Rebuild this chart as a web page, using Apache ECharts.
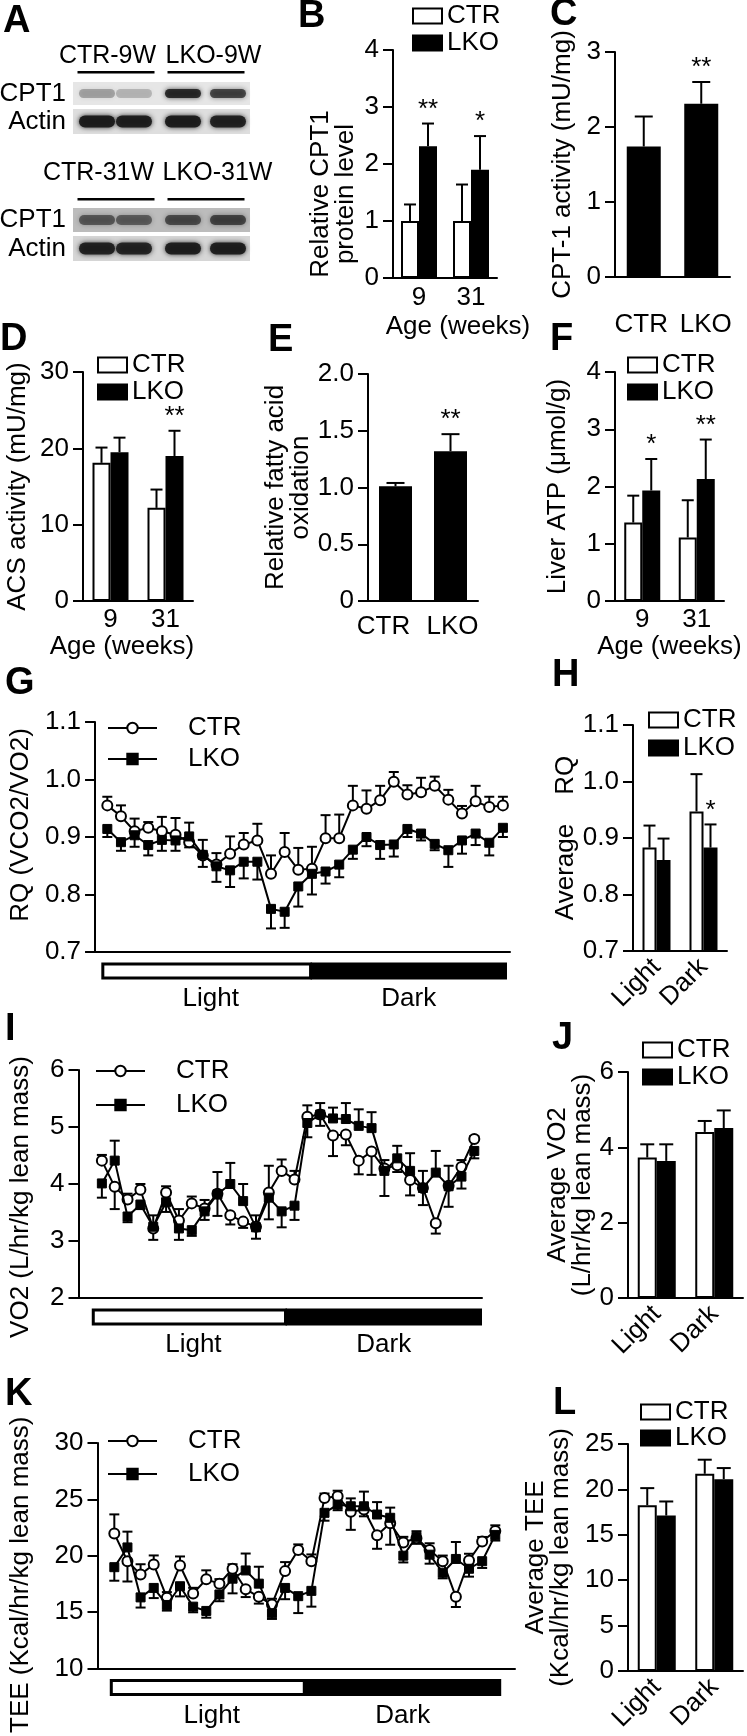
<!DOCTYPE html>
<html>
<head>
<meta charset="utf-8">
<script src="https://cdn.jsdelivr.net/npm/echarts@6.0.0/dist/echarts.min.js"></script>
<style>
  html, body { margin: 0; padding: 0; background: #fff; }
  #fig { width: 747px; height: 1736px; }
</style>
</head>
<body>
<div id="fig"></div>
<script>
const FONT = '"Liberation Sans", Arial, Helvetica, sans-serif';
const FS = 26;
const BLACK = '#000';

// ---------- data ----------
const ageWeeks = ['9', '31'];
const genotypes = ['CTR', 'LKO'];
const phases = ['Light', 'Dark'];

// A: western blot band darkness (lanes: CTR, CTR, LKO, LKO)
const blotGroups9w = ['CTR-9W', 'LKO-9W'];
const blotGroups31w = ['CTR-31W', 'LKO-31W'];
const cpt1Bands9w = [0.30, 0.22, 0.85, 0.70];
const actinBands9w = [0.95, 0.92, 0.95, 0.90];
const cpt1Bands31w = [0.55, 0.52, 0.62, 0.66];
const actinBands31w = [0.90, 0.88, 0.92, 0.92];

// B: relative CPT1 protein level
const cpt1ProtCtr = [1.00, 1.00];
const cpt1ProtCtrSem = [0.29, 0.64];
const cpt1ProtLko = [2.31, 1.90];
const cpt1ProtLkoSem = [0.40, 0.59];
const cpt1ProtStars = ['**', '*'];

// C: CPT-1 activity
const cpt1Activity = [1.74, 2.31];
const cpt1ActivitySem = [0.40, 0.29];
const cpt1ActivityStars = ['', '**'];

// D: ACS activity
const acsCtr = [18.1, 12.2];
const acsCtrSem = [2.0, 2.4];
const acsLko = [19.5, 19.0];
const acsLkoSem = [1.9, 3.3];
const acsStars = ['', '**'];

// E: relative fatty acid oxidation
const faoValues = [1.01, 1.32];
const faoSem = [0.03, 0.15];
const faoStars = ['', '**'];

// F: liver ATP
const atpCtr = [1.37, 1.11];
const atpCtrSem = [0.47, 0.65];
const atpLko = [1.93, 2.13];
const atpLkoSem = [0.55, 0.69];
const atpStars = ['*', '**'];

// G: RQ time course
const rqCtr = [0.955, 0.936, 0.910, 0.916, 0.910, 0.904, 0.891, 0.868, 0.852, 0.871, 0.887, 0.894, 0.836, 0.874, 0.843,
               0.845, 0.898, 0.898, 0.955, 0.949, 0.964, 0.996, 0.974, 0.978, 0.989, 0.965, 0.941, 0.962, 0.952, 0.955];
const rqCtrSem = [0.015, 0.019, 0.022, 0.010, 0.025, 0.029, 0.009, 0.020, 0.020, 0.030, 0.020, 0.029, 0.032, 0.033, 0.038,
                  0.038, 0.040, 0.041, 0.034, 0.032, 0.025, 0.017, 0.016, 0.025, 0.016, 0.017, 0.013, 0.027, 0.018, 0.015];
const rqLko = [0.914, 0.891, 0.903, 0.886, 0.895, 0.894, 0.901, 0.869, 0.849, 0.842, 0.857, 0.857, 0.775, 0.770, 0.814,
               0.836, 0.840, 0.852, 0.878, 0.900, 0.886, 0.887, 0.914, 0.906, 0.888, 0.877, 0.894, 0.906, 0.890, 0.916];
const rqLkoSem = [0.014, 0.015, 0.020, 0.018, 0.019, 0.018, 0.024, 0.026, 0.027, 0.029, 0.029, 0.031, 0.034, 0.028, 0.035,
                  0.036, 0.021, 0.022, 0.016, 0.016, 0.024, 0.021, 0.014, 0.012, 0.011, 0.029, 0.023, 0.020, 0.022, 0.016];

// H: average RQ
const rqAvgCtr = [0.883, 0.947];
const rqAvgCtrSem = [0.039, 0.066];
const rqAvgLko = [0.861, 0.883];
const rqAvgLkoSem = [0.038, 0.041];
const rqAvgStars = ['', '*'];

// I: VO2 time course
const vo2Ctr = [4.41, 3.95, 3.73, 3.90, 3.22, 3.85, 3.36, 3.66, 3.57, 3.83, 3.45, 3.34, 3.25, 3.85, 4.23,
                4.08, 5.18, 5.22, 4.85, 4.87, 4.41, 4.57, 4.27, 4.33, 4.07, 3.93, 3.31, 3.97, 4.30, 4.79];
const vo2CtrSem = [0.10, 0.39, 0.10, 0.10, 0.20, 0.11, 0.20, 0.12, 0.15, 0.38, 0.16, 0.11, 0.20, 0.47, 0.20,
                   0.15, 0.20, 0.20, 0.36, 0.19, 0.24, 0.41, 0.15, 0.12, 0.27, 0.30, 0.18, 0.35, 0.12, 0.05];
const vo2Lko = [4.01, 4.41, 3.43, 3.64, 3.25, 3.68, 3.22, 3.19, 3.52, 3.82, 4.00, 3.70, 3.24, 3.76, 3.52,
                3.62, 5.07, 5.22, 5.15, 5.14, 5.02, 4.98, 4.23, 4.45, 4.23, 3.93, 4.20, 3.96, 4.13, 4.58];
const vo2LkoSem = [0.25, 0.35, 0.10, 0.08, 0.20, 0.17, 0.20, 0.10, 0.15, 0.38, 0.37, 0.30, 0.20, 0.38, 0.28,
                   0.25, 0.25, 0.20, 0.19, 0.28, 0.29, 0.28, 0.44, 0.22, 0.31, 0.30, 0.38, 0.36, 0.21, 0.13];

// J: average VO2
const vo2AvgCtr = [3.73, 4.41];
const vo2AvgCtrSem = [0.35, 0.29];
const vo2AvgLko = [3.64, 4.51];
const vo2AvgLkoSem = [0.44, 0.47];

// K: TEE time course
const teeCtr = [21.97, 19.52, 18.35, 19.23, 16.28, 19.14, 16.66, 17.91, 17.53, 18.85, 17.04, 16.36, 15.69, 18.64, 20.51,
                19.52, 25.12, 25.27, 23.90, 24.10, 21.82, 22.88, 21.18, 21.56, 20.51, 19.52, 16.36, 19.58, 21.27, 22.20];
const teeCtrSem = [1.7, 1.8, 0.9, 0.8, 0.5, 0.8, 0.5, 0.8, 0.4, 0.4, 0.7, 0.6, 0.5, 0.8, 0.5,
                   0.6, 0.4, 0.5, 1.6, 0.6, 1.2, 1.9, 0.5, 0.5, 0.6, 0.5, 0.9, 0.6, 0.4, 0.5];
const teeLko = [18.99, 20.74, 16.31, 17.15, 15.64, 17.30, 15.49, 15.11, 16.57, 17.97, 18.70, 17.53, 14.90, 17.15, 16.42,
                16.89, 23.81, 24.54, 24.39, 24.39, 23.66, 23.37, 20.01, 21.68, 20.10, 18.50, 19.72, 18.85, 19.52, 21.85];
const teeLkoSem = [1.2, 1.4, 0.9, 0.9, 0.5, 0.9, 0.5, 0.6, 0.6, 1.3, 1.5, 1.5, 0.5, 1.0, 1.5,
                   1.4, 0.7, 0.5, 0.7, 1.3, 1.1, 0.9, 0.6, 0.5, 0.8, 0.5, 1.5, 0.7, 0.6, 0.5];

// L: average TEE
const teeAvgCtr = [18.26, 21.72];
const teeAvgCtrSem = [1.88, 1.55];
const teeAvgLko = [17.12, 21.13];
const teeAvgLkoSem = [1.55, 1.22];

// ---------- builders ----------
let grids = [], xAxes = [], yAxes = [], seriesList = [], legends = [];
let phaseBars = [];

const axisLine = { show: true, onZero: false, lineStyle: { color: BLACK, width: 2 } };

let fmt1 = function (v) { return v === 0 ? '0' : v.toFixed(1); };

function addGrid(box) {
    grids.push({ left: box[0], top: box[1], width: box[2], height: box[3] });
    return grids.length - 1;
}

function addYAxis(gi, y) {
    yAxes.push({
        gridIndex: gi, type: 'value', min: y.min, max: y.max, interval: y.step,
        name: y.name, nameLocation: 'middle', nameRotate: 90, nameGap: y.gap,
        nameTextStyle: { fontSize: FS, fontFamily: FONT, color: BLACK, lineHeight: 25, padding: y.pad || 0 },
        axisLine: axisLine,
        axisTick: { show: true, length: 10, lineStyle: { color: BLACK, width: 2 } },
        axisLabel: { fontSize: FS, fontFamily: FONT, color: BLACK, margin: 14, formatter: y.fmt },
        splitLine: { show: false }
    });
}

function addLegend(id, names, lg, isLine) {
    legends.push({
        left: lg.left, top: lg.top, orient: 'vertical', padding: 0,
        itemGap: lg.gap, itemWidth: isLine ? 49 : 29, itemHeight: isLine ? 13 : 15,
        icon: isLine ? undefined : 'rect',
        selectedMode: false,
        data: names.map(function (n) { return n + '_' + id; }),
        formatter: function (n) { return n.split('_')[0]; },
        textStyle: { fontSize: FS, fontFamily: FONT, color: BLACK, padding: isLine ? [0, 0, 0, 26] : 0 }
    });
}

// error bar + cap (+ star) on top of a bar
function barErrors(gi, vals, sem, offset, capHalf, stars) {
    return {
        type: 'custom', xAxisIndex: gi, yAxisIndex: gi, silent: true, z: 3,
        data: vals.map(function (v, i) { return [i, v, v + sem[i]]; }),
        renderItem: function (params, api) {
            let base = api.coord([api.value(0), api.value(1)]);
            let top = api.coord([api.value(0), api.value(2)]);
            let x = base[0] + offset;
            let kids = [
                { type: 'line', shape: { x1: x, y1: base[1], x2: x, y2: top[1] }, style: { stroke: BLACK, lineWidth: 2 } },
                { type: 'line', shape: { x1: x - capHalf, y1: top[1], x2: x + capHalf, y2: top[1] }, style: { stroke: BLACK, lineWidth: 2 } }
            ];
            let star = stars ? stars[params.dataIndex] : '';
            if (star) {
                kids.push({
                    type: 'text',
                    style: {
                        text: star, x: x, y: top[1] - 1, fill: BLACK,
                        font: FS + 'px ' + FONT,
                        textAlign: 'center', textVerticalAlign: 'bottom'
                    }
                });
            }
            return { type: 'group', children: kids };
        }
    };
}

// category labels nudged apart (left label to the left, right label to the right)
function spreadLabels(cats, pad) {
    return {
        formatter: function (v) { return '{' + (v === cats[0] ? 'l' : 'r') + '|' + v + '}'; },
        rich: {
            l: { fontSize: FS, fontFamily: FONT, color: BLACK, padding: [0, pad[0], 0, 0] },
            r: { fontSize: FS, fontFamily: FONT, color: BLACK, padding: [0, 0, 0, pad[1]] }
        }
    };
}

function barPanel(p) {
    let gi = addGrid(p.box);
    let label = { interval: 0, fontSize: FS, fontFamily: FONT, color: BLACK, margin: p.x.margin, rotate: p.x.rotate || 0 };
    if (p.x.spread) {
        Object.assign(label, spreadLabels(p.cats, p.x.spread));
    }
    xAxes.push({
        gridIndex: gi, type: 'category', data: p.cats,
        axisLine: axisLine, axisTick: { show: false },
        axisLabel: label,
        name: p.x.name, nameLocation: 'middle', nameGap: p.x.nameGap,
        nameTextStyle: { fontSize: FS, fontFamily: FONT, color: BLACK, padding: p.x.namePad || 0 }
    });
    addYAxis(gi, p.y);
    let n = p.groups.length;
    p.groups.forEach(function (g, k) {
        seriesList.push({
            type: 'bar', name: g.name + '_' + p.id, xAxisIndex: gi, yAxisIndex: gi,
            data: g.vals, barWidth: p.barWidth, barGap: '0%', silent: true,
            itemStyle: { color: g.fill, borderColor: BLACK, borderWidth: 2 }
        });
        let offset = (k - (n - 1) / 2) * p.barWidth;
        seriesList.push(barErrors(gi, g.vals, g.sem, offset, p.cap, g.stars));
    });
    if (p.legend) {
        addLegend(p.id, p.groups.map(function (g) { return g.name; }), p.legend, false);
    }
}

// vertical error bar for one time point; drawn away from the other group
function lineErrors(gi, vals, sem, other, isCtr) {
    return {
        type: 'custom', xAxisIndex: gi, yAxisIndex: gi, silent: true, z: 1,
        data: vals.map(function (v, i) {
            let up = isCtr ? v >= other[i] : v > other[i];
            return [i, v, up ? v + sem[i] : v - sem[i]];
        }),
        renderItem: function (params, api) {
            let a = api.coord([api.value(0), api.value(1)]);
            let b = api.coord([api.value(0), api.value(2)]);
            return {
                type: 'group', children: [
                    { type: 'line', shape: { x1: a[0], y1: a[1], x2: b[0], y2: b[1] }, style: { stroke: BLACK, lineWidth: 2 } },
                    { type: 'line', shape: { x1: b[0] - 5, y1: b[1], x2: b[0] + 5, y2: b[1] }, style: { stroke: BLACK, lineWidth: 2 } }
                ]
            };
        }
    };
}

function timePanel(p) {
    let gi = addGrid(p.box);
    xAxes.push({
        gridIndex: gi, type: 'value', min: p.xRange[0], max: p.xRange[1],
        axisLine: axisLine, axisTick: { show: false }, axisLabel: { show: false }, splitLine: { show: false }
    });
    addYAxis(gi, p.y);
    seriesList.push(lineErrors(gi, p.ctr, p.ctrSem, p.lko, true));
    seriesList.push(lineErrors(gi, p.lko, p.lkoSem, p.ctr, false));
    seriesList.push({
        type: 'line', name: 'CTR_' + p.id, xAxisIndex: gi, yAxisIndex: gi, z: 3, silent: true,
        data: p.ctr.map(function (v, i) { return [i, v]; }),
        symbol: 'circle', symbolSize: 10,
        lineStyle: { color: BLACK, width: 2 },
        itemStyle: { color: '#fff', borderColor: BLACK, borderWidth: 2 }
    });
    seriesList.push({
        type: 'line', name: 'LKO_' + p.id, xAxisIndex: gi, yAxisIndex: gi, z: 4, silent: true,
        data: p.lko.map(function (v, i) { return [i, v]; }),
        symbol: 'rect', symbolSize: 9,
        lineStyle: { color: BLACK, width: 2 },
        itemStyle: { color: BLACK, borderColor: BLACK, borderWidth: 1 }
    });
    addLegend(p.id, ['CTR', 'LKO'], p.legend, true);
    phaseBars.push({ gi: gi, edges: p.phaseEdges, yMin: p.y.min });
}

// ---------- panels ----------
barPanel({
    id: 'B', box: [393, 50, 104, 228], cats: ageWeeks, barWidth: 18, cap: 6,
    groups: [
        { name: 'CTR', vals: cpt1ProtCtr, sem: cpt1ProtCtrSem, fill: '#fff' },
        { name: 'LKO', vals: cpt1ProtLko, sem: cpt1ProtLkoSem, fill: BLACK, stars: cpt1ProtStars }
    ],
    y: { min: 0, max: 4, step: 1, name: 'Relative CPT1\nprotein level', gap: 35, pad: [0, 60, 0, 0] },
    x: { margin: 7, name: 'Age (weeks)', nameGap: 36, namePad: [0, 0, 0, 26] },
    legend: { left: 412, top: 3, gap: 1 }
});

barPanel({
    id: 'C', box: [615, 52, 115, 225], cats: genotypes, barWidth: 34, cap: 9,
    groups: [{ name: 'val', vals: cpt1Activity, sem: cpt1ActivitySem, fill: BLACK, stars: cpt1ActivityStars }],
    y: { min: 0, max: 3, step: 1, name: 'CPT-1 activity (mU/mg)', gap: 40 },
    x: { margin: 35, spread: [5, 9] }
});

barPanel({
    id: 'D', box: [83, 372, 110, 229], cats: ageWeeks, barWidth: 18, cap: 6,
    groups: [
        { name: 'CTR', vals: acsCtr, sem: acsCtrSem, fill: '#fff' },
        { name: 'LKO', vals: acsLko, sem: acsLkoSem, fill: BLACK, stars: acsStars }
    ],
    y: { min: 0, max: 30, step: 10, name: 'ACS activity (mU/mg)', gap: 53 },
    x: { margin: 6, name: 'Age (weeks)', nameGap: 30, namePad: [0, 32, 0, 0] },
    legend: { left: 97, top: 352, gap: 1 }
});

barPanel({
    id: 'E', box: [368, 374, 110, 227], cats: genotypes, barWidth: 33, cap: 9,
    groups: [{ name: 'val', vals: faoValues, sem: faoSem, fill: BLACK, stars: faoStars }],
    y: { min: 0, max: 2, step: 0.5, name: 'Relative fatty acid\noxidation', gap: 53, fmt: fmt1 },
    x: { margin: 13, spread: [24, 4] }
});

barPanel({
    id: 'F', box: [615, 372, 109, 229], cats: ageWeeks, barWidth: 18, cap: 6,
    groups: [
        { name: 'CTR', vals: atpCtr, sem: atpCtrSem, fill: '#fff' },
        { name: 'LKO', vals: atpLko, sem: atpLkoSem, fill: BLACK, stars: atpStars }
    ],
    y: { min: 0, max: 4, step: 1, name: 'Liver ATP (\u03bcmol/g)', gap: 45 },
    x: { margin: 6, name: 'Age (weeks)', nameGap: 30 },
    legend: { left: 627, top: 352, gap: 1 }
});

timePanel({
    id: 'G', box: [83, 722, 427, 230], xRange: [-0.9, 29.52], phaseEdges: [-0.33, 14.9, 29.3],
    ctr: rqCtr, ctrSem: rqCtrSem, lko: rqLko, lkoSem: rqLkoSem,
    y: { min: 0.7, max: 1.1, step: 0.1, name: 'RQ (VCO2/VO2)', gap: 53, fmt: fmt1, pad: [0, 0, 0, 24] },
    legend: { left: 107, top: 715, gap: 5 }
});

barPanel({
    id: 'H', box: [633, 725, 94, 226], cats: phases, barWidth: 14, cap: 6,
    groups: [
        { name: 'CTR', vals: rqAvgCtr, sem: rqAvgCtrSem, fill: '#fff' },
        { name: 'LKO', vals: rqAvgLko, sem: rqAvgLkoSem, fill: BLACK, stars: rqAvgStars }
    ],
    y: { min: 0.7, max: 1.1, step: 0.1, name: 'Average    RQ', gap: 53, fmt: fmt1 },
    x: { margin: 12, rotate: 45 },
    legend: { left: 648, top: 707, gap: 2 }
});

timePanel({
    id: 'I', box: [73, 1070, 409, 228], xRange: [-1.82, 29.6], phaseEdges: [-0.67, 14.3, 29.6],
    ctr: vo2Ctr, ctrSem: vo2CtrSem, lko: vo2Lko, lkoSem: vo2LkoSem,
    y: { min: 2, max: 6, step: 1, name: 'VO2 (L/hr/kg lean mass)', gap: 45, pad: [0, 26, 0, 0] },
    legend: { left: 95, top: 1058, gap: 8 }
});

barPanel({
    id: 'J', box: [628, 1072, 115, 226], cats: phases, barWidth: 19, cap: 7,
    groups: [
        { name: 'CTR', vals: vo2AvgCtr, sem: vo2AvgCtrSem, fill: '#fff' },
        { name: 'LKO', vals: vo2AvgLko, sem: vo2AvgLkoSem, fill: BLACK }
    ],
    y: { min: 0, max: 6, step: 2, name: 'Average VO2\n(L/hr/kg lean mass)', gap: 14 },
    x: { margin: 12, rotate: 45 },
    legend: { left: 642, top: 1037, gap: 1 }
});

timePanel({
    id: 'K', box: [93, 1443, 422, 228], xRange: [-1.28, 30.5], phaseEdges: [-0.23, 14.46, 29.45],
    ctr: teeCtr, ctrSem: teeCtrSem, lko: teeLko, lkoSem: teeLkoSem,
    y: { min: 10, max: 30, step: 5, name: 'TEE (Kcal/hr/kg lean mass)', gap: 64, pad: [0, 38, 0, 0] },
    legend: { left: 107, top: 1428, gap: 7 }
});

barPanel({
    id: 'L', box: [628, 1444, 115, 227], cats: phases, barWidth: 19, cap: 7,
    groups: [
        { name: 'CTR', vals: teeAvgCtr, sem: teeAvgCtrSem, fill: '#fff' },
        { name: 'LKO', vals: teeAvgLko, sem: teeAvgLkoSem, fill: BLACK }
    ],
    y: { min: 0, max: 25, step: 5, name: 'Average TEE\n(Kcal/hr/kg lean mass)', gap: 55 },
    x: { margin: 12, rotate: 45 },
    legend: { left: 640, top: 1399, gap: 0 }
});

let chart = echarts.init(document.getElementById('fig'), null, { renderer: 'canvas' });
chart.setOption({
    animation: false,
    backgroundColor: '#fff',
    textStyle: { fontFamily: FONT, color: BLACK },
    grid: grids,
    xAxis: xAxes,
    yAxis: yAxes,
    legend: legends,
    series: seriesList
});

// ---------- decorations: panel letters, blots, light/dark bars ----------
let graphicEls = [];

function addText(str, x, y, size, weight, align, vAlign) {
    graphicEls.push({
        type: 'text', x: x, y: y, silent: true,
        style: {
            text: str, fill: BLACK, font: (weight || 'normal') + ' ' + size + 'px ' + FONT,
            textAlign: align || 'left', textVerticalAlign: vAlign || 'top'
        }
    });
}

// panel letters
[['A', 3, 3], ['B', 298, -2], ['C', 550, -4], ['D', 0, 321], ['E', 268, 322], ['F', 550, 321],
 ['G', 5, 665], ['H', 552, 657], ['I', 5, 1011], ['J', 552, 1020], ['K', 5, 1376], ['L', 553, 1385]]
    .forEach(function (l) { addText(l[0], l[1], l[2], 38, 'bold'); });

// western blots
const laneX = [97, 134, 183, 228];
function blot(titleY, titleShift, lineY, stripTop, groups, rows) {
    groups.forEach(function (g, k) {
        let cx = (laneX[2 * k] + laneX[2 * k + 1]) / 2;
        addText(g, cx + titleShift[k], titleY, 25, 'normal', 'center', 'middle');
        graphicEls.push({
            type: 'rect', silent: true,
            shape: { x: cx - 38, y: lineY - 1, width: 77, height: 2.5 },
            style: { fill: BLACK }
        });
    });
    let top = stripTop;
    rows.forEach(function (row) {
        graphicEls.push({
            type: 'rect', silent: true,
            shape: { x: 73, y: top, width: 177, height: row.h },
            style: { fill: row.bg }
        });
        row.bands.forEach(function (a, j) {
            let c = 'rgba(25,25,25,' + a + ')';
            graphicEls.push({
                type: 'rect', silent: true,
                shape: { x: laneX[j] - 18, y: top + row.h / 2 - row.bh / 2, width: 36, height: row.bh, r: row.bh / 2 },
                style: { fill: c, shadowBlur: 5, shadowColor: c }
            });
        });
        addText(row.label, 66, top + row.h / 2, FS, 'normal', 'right', 'middle');
        top += row.h + 4;
    });
}
blot(56, [-8, 8], 72, 82, blotGroups9w, [
    { label: 'CPT1', bands: cpt1Bands9w, h: 23, bh: 9, bg: '#e6e6e6' },
    { label: 'Actin', bands: actinBands9w, h: 25, bh: 12, bg: '#dedede' }
]);
blot(173, [-17, 12], 199, 208, blotGroups31w, [
    { label: 'CPT1', bands: cpt1Bands31w, h: 24, bh: 10, bg: '#bcbcbc' },
    { label: 'Actin', bands: actinBands31w, h: 25, bh: 12, bg: '#d6d6d6' }
]);

// light / dark bars under the time courses
phaseBars.forEach(function (pb) {
    let a = chart.convertToPixel({ gridIndex: pb.gi }, [pb.edges[0], pb.yMin]);
    let m = chart.convertToPixel({ gridIndex: pb.gi }, [pb.edges[1], pb.yMin]);
    let b = chart.convertToPixel({ gridIndex: pb.gi }, [pb.edges[2], pb.yMin]);
    let top = a[1] + 12;
    let h = 14;
    graphicEls.push({
        type: 'rect', silent: true, shape: { x: a[0], y: top, width: m[0] - a[0], height: h },
        style: { fill: '#fff', stroke: BLACK, lineWidth: 3 }
    });
    graphicEls.push({
        type: 'rect', silent: true, shape: { x: m[0], y: top - 1.5, width: b[0] - m[0], height: h + 3 },
        style: { fill: BLACK }
    });
    addText(phases[0], (a[0] + m[0]) / 2 + 4, top + h + 21, FS, 'normal', 'center', 'middle');
    addText(phases[1], (m[0] + b[0]) / 2, top + h + 21, FS, 'normal', 'center', 'middle');
});

chart.setOption({ graphic: { elements: graphicEls } });
</script>
</body>
</html>
